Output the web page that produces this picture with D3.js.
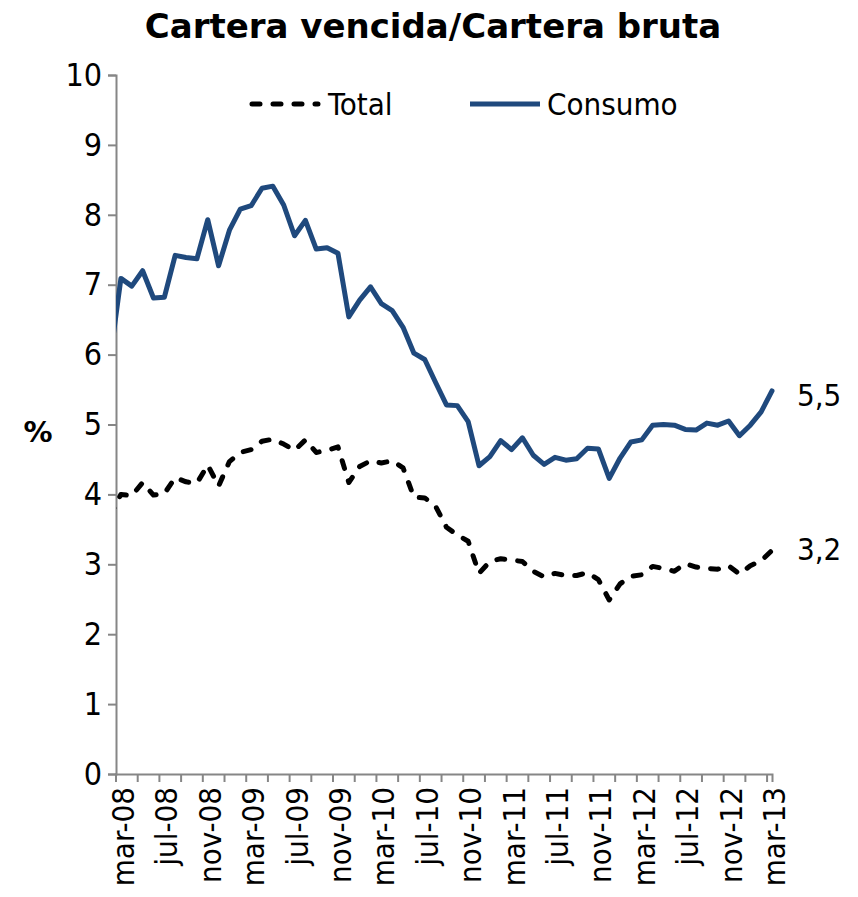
<!DOCTYPE html>
<html>
<head>
<meta charset="utf-8">
<script src="https://cdn.jsdelivr.net/npm/d3@7"></script>
<style>
  html, body { margin: 0; padding: 0; background: #fff; }
  svg { display: block; }
  text { font-family: "DejaVu Sans Condensed", "DejaVu Sans", sans-serif; fill: #000; }
</style>
</head>
<body>
<svg id="chart" width="858" height="897"></svg>
<script>
// Months from feb-08 (index -1, clipped at axis) to mar-13 (index 60)
const startIndex = -1;
const tickLabels = ["mar-08","jul-08","nov-08","mar-09","jul-09","nov-09","mar-10","jul-10",
                    "nov-10","mar-11","jul-11","nov-11","mar-12","jul-12","nov-12","mar-13"];
const yTicks = [0,1,2,3,4,5,6,7,8,9,10];
const seriesNames = ["Total","Consumo"];
const consumo = [5.94,
  7.09,6.98,7.20,6.81,6.82,7.42,7.39,7.37,7.93,7.27,7.78,8.08,
  8.13,8.38,8.41,8.14,7.70,7.92,7.51,7.53,7.45,6.54,6.78,6.97,
  6.73,6.63,6.39,6.02,5.93,5.60,5.28,5.27,5.04,4.41,4.54,4.77,
  4.64,4.81,4.56,4.43,4.53,4.49,4.51,4.66,4.65,4.23,4.52,4.75,
  4.78,4.99,5.00,4.99,4.93,4.92,5.02,4.99,5.05,4.84,4.99,5.18,5.48];
const total = [3.70,
  4.00,3.98,4.17,3.99,4.01,4.24,4.18,4.16,4.42,4.12,4.47,4.60,
  4.64,4.76,4.79,4.72,4.63,4.78,4.60,4.63,4.68,4.17,4.40,4.48,
  4.45,4.48,4.38,3.96,3.95,3.83,3.53,3.42,3.33,2.87,3.04,3.08,
  3.06,3.04,2.90,2.82,2.87,2.84,2.84,2.88,2.78,2.49,2.72,2.83,
  2.85,2.97,2.94,2.90,3.01,2.96,2.94,2.93,2.98,2.86,2.98,3.05,3.20];
const endLabels = ["3,2","5,5"];

const svg = d3.select("#chart");
const x = d3.scaleLinear().domain([-0.5, 60]).range([115.5, 772]);
const y = d3.scaleLinear().domain([0, 10]).range([774, 75]);
const axisColor = "#868686";
const blue = "#1F497D";

// title
svg.append("text").attr("x", 433).attr("y", 38).attr("text-anchor", "middle")
  .style("font-family", '"DejaVu Sans", sans-serif')
  .style("font-weight", "bold").style("font-size", "34px")
  .text("Cartera vencida/Cartera bruta");

// clip
svg.append("clipPath").attr("id", "plotclip").append("rect")
  .attr("x", 116).attr("y", 0).attr("width", 742).attr("height", 897);

// y axis
const yAxis = svg.append("g").attr("transform", "translate(116,0)")
  .call(d3.axisLeft(y).tickValues(yTicks).tickSize(8).tickPadding(6).tickFormat(d3.format("d")));
yAxis.select(".domain").attr("stroke", axisColor).attr("stroke-width", 2);
yAxis.selectAll(".tick line").attr("stroke", axisColor).attr("stroke-width", 2);
yAxis.selectAll(".tick text").style("font-size", "32px").attr("fill", "#000");

// x axis
const xAxis = svg.append("g").attr("transform", "translate(0,774)")
  .call(d3.axisBottom(x).tickValues(d3.range(-0.5, 60, 2)).tickSize(8).tickFormat(""));
xAxis.select(".domain").attr("stroke", axisColor).attr("stroke-width", 2);
xAxis.selectAll(".tick line").attr("stroke", axisColor).attr("stroke-width", 2);

svg.append("g").selectAll("text").data(tickLabels).join("text")
  .attr("transform", (d, i) => `translate(${x(i * 4) + 2},787) rotate(-90)`)
  .attr("text-anchor", "end").attr("dominant-baseline", "central")
  .style("font-size", "31px").text(d => d);

// % label
svg.append("text").attr("x", 38).attr("y", 432).attr("text-anchor", "middle")
  .attr("dominant-baseline", "central")
  .style("font-family", '"DejaVu Sans", sans-serif')
  .style("font-weight", "bold").style("font-size", "29px").text("%");

// lines
const line = d3.line().x((d, i) => x(i + startIndex)).y(d => y(d));
const g = svg.append("g").attr("clip-path", "url(#plotclip)");
g.append("path").datum(consumo).attr("d", line)
  .attr("fill", "none").attr("stroke", blue).attr("stroke-width", 5)
  .attr("stroke-linejoin", "round").attr("stroke-linecap", "round");
g.append("path").datum(total).attr("d", line)
  .attr("fill", "none").attr("stroke", "#000").attr("stroke-width", 5)
  .attr("stroke-dasharray", "8,13")
  .attr("stroke-linejoin", "round").attr("stroke-linecap", "round");

// end labels
svg.append("text").attr("x", 797).attr("y", y(total[total.length - 1]) - 1)
  .attr("dominant-baseline", "central").style("font-size", "31px").text(endLabels[0]);
svg.append("text").attr("x", 797).attr("y", y(consumo[consumo.length - 1]) + 4)
  .attr("dominant-baseline", "central").style("font-size", "31px").text(endLabels[1]);

// legend
const leg = svg.append("g");
leg.append("line").attr("x1", 252).attr("x2", 318).attr("y1", 104).attr("y2", 104)
  .attr("stroke", "#000").attr("stroke-width", 5).attr("stroke-dasharray", "8,13")
  .attr("stroke-linecap", "round");
leg.append("text").attr("x", 328).attr("y", 104).attr("dominant-baseline", "central")
  .style("font-size", "31px").text(seriesNames[0]);
leg.append("line").attr("x1", 470).attr("x2", 540).attr("y1", 104).attr("y2", 104)
  .attr("stroke", blue).attr("stroke-width", 5);
leg.append("text").attr("x", 547).attr("y", 104).attr("dominant-baseline", "central")
  .style("font-size", "31px").text(seriesNames[1]);
</script>
</body>
</html>
